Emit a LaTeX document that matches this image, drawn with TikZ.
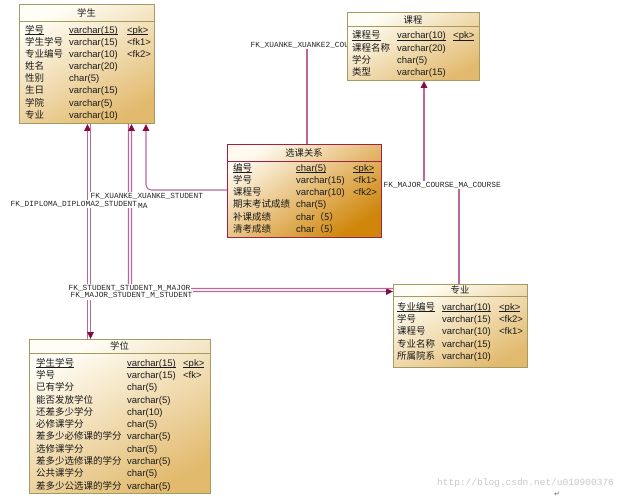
\documentclass[tikz,border=0pt]{standalone}
\usepackage{fontspec}
\setmainfont{Liberation Sans}
\newfontfamily\cjk{Noto Sans CJK SC}
\newfontfamily\lblmono{Liberation Mono}
\newfontfamily\symfont{DejaVu Sans}
\usetikzlibrary{arrows.meta}
\pgfdeclarelayer{bg}
\pgfdeclarelayer{mid}
\pgfsetlayers{bg,mid,main}
\definecolor{tbBorder}{HTML}{A39B62}
\definecolor{tbTop}{HTML}{FFFEF6}
\definecolor{tbBot}{HTML}{E2BA6E}
\definecolor{selBorder}{HTML}{9E2148}
\definecolor{selTop}{HTML}{FFF9EE}
\definecolor{selBot}{HTML}{CF860A}
\definecolor{linkCol}{HTML}{B9689A}
\definecolor{tipCol}{HTML}{860A43}
\definecolor{wmCol}{HTML}{C8C8C8}
\definecolor{txtCol}{HTML}{1A1A1A}
\tikzset{
  tbl/.style={draw=tbBorder, line width=1pt, top color=tbTop, bottom color=tbBot, shading angle=28,
    anchor=north west, inner sep=0pt, outer sep=0pt},
  seltbl/.style={tbl, draw=selBorder, top color=selTop, bottom color=selBot, shading angle=35},
  hdr/.style={draw=tbBorder, line width=0.8pt},
  selhdr/.style={draw=selBorder, line width=0.8pt},
  ttl/.style={inner sep=0pt, font=\cjk\fontsize{9.3}{10}\selectfont, text=txtCol},
  cell/.style={anchor=west, inner sep=0pt, text height=7.5pt, text depth=1.5pt,
    font=\fontsize{9.5}{10}\selectfont, text=txtCol},
  link/.style={draw=linkCol, line width=1.1pt},
  tip/.style={-{Triangle[length=7pt,width=6.5pt,color=tipCol,fill=tipCol]}},
  lbl/.style={anchor=west, inner xsep=0.5pt, inner ysep=1pt, fill=white,
    font=\lblmono\fontsize{7.8}{8}\selectfont, text=black!85},
  wm/.style={anchor=west, inner sep=0pt, font=\lblmono\fontsize{9.5}{10}\selectfont, text=wmCol}
}
\newcommand\ulin[1]{\setbox0\hbox{#1}\rlap{\rule[-1.3pt]{\wd0}{0.55pt}}\box0}
\newcommand\colA{0}
\newcommand\colB{0}
\newcommand\colC{0}
\newcommand\trow[4]{%
  \node[cell] (#1n) at (\colA,#2) {\cjk #3};
  \node[cell] (#1t) at (\colB,#2) {#4};}
\newcommand\trowk[5]{%
  \node[cell] (#1n) at (\colA,#2) {\cjk #3};
  \node[cell] (#1t) at (\colB,#2) {#4};
  \node[cell] (#1k) at (\colC,#2) {#5};}
\begin{document}
\begin{tikzpicture}[x=1pt,y=-1pt]
\begin{pgfonlayer}{bg}
\fill[white] (0,0) rectangle (625,503);
\end{pgfonlayer}
\useasboundingbox (0,0) rectangle (625,503);

% ---------- 学生 ----------
\node[tbl, minimum width=135pt, minimum height=119pt] (stu) at (19,5) {};
\draw[hdr] ([yshift=-16pt]stu.north west) -- ([yshift=-16pt]stu.north east);
\node[ttl] (stuT) at ([yshift=-8pt]stu.north) {学生};
\renewcommand\colA{25}\renewcommand\colB{69}\renewcommand\colC{127}
\trowk{s1}{30.5}{\ulin{学号}}{\ulin{varchar(15)}}{\ulin{<pk>}}
\trowk{s2}{42.6}{学生学号}{varchar(15)}{<fk1>}
\trowk{s3}{54.7}{专业编号}{varchar(10)}{<fk2>}
\trow{s4}{66.8}{姓名}{varchar(20)}
\trow{s5}{78.9}{性别}{char(5)}
\trow{s6}{91.0}{生日}{varchar(15)}
\trow{s7}{103.1}{学院}{varchar(5)}
\trow{s8}{115.2}{专业}{varchar(10)}

% ---------- 课程 ----------
\node[tbl, minimum width=132pt, minimum height=68pt] (course) at (347,13) {};
\draw[hdr] ([yshift=-13pt]course.north west) -- ([yshift=-13pt]course.north east);
\node[ttl] (courseT) at ([yshift=-7pt]course.north) {课程};
\renewcommand\colA{352}\renewcommand\colB{397}\renewcommand\colC{453}
\trowk{c1}{36}{\ulin{课程号}}{\ulin{varchar(10)}}{\ulin{<pk>}}
\trow{c2}{48.3}{课程名称}{varchar(20)}
\trow{c3}{60.6}{学分}{char(5)}
\trow{c4}{72.9}{类型}{varchar(15)}

% ---------- 选课关系 ----------
\node[seltbl, minimum width=154pt, minimum height=92pt] (xk) at (227,145) {};
\draw[selhdr] ([yshift=-16pt]xk.north west) -- ([yshift=-16pt]xk.north east);
\node[ttl] (xkT) at ([yshift=-8pt]xk.north) {选课关系};
\renewcommand\colA{233}\renewcommand\colB{296}\renewcommand\colC{353}
\trowk{x1}{168.3}{\ulin{编号}}{\ulin{char(5)}}{\ulin{<pk>}}
\trowk{x2}{180.5}{学号}{varchar(15)}{<fk1>}
\trowk{x3}{192.7}{课程号}{varchar(10)}{<fk2>}
\trow{x4}{204.9}{期末考试成绩}{char(5)}
\trow{x5}{217.1}{补课成绩}{char{\cjk （5）}}
\trow{x6}{229.3}{清考成绩}{char{\cjk （5）}}

% ---------- 专业 ----------
\node[tbl, minimum width=134pt, minimum height=83pt] (major) at (393,284) {};
\draw[hdr] ([yshift=-12pt]major.north west) -- ([yshift=-12pt]major.north east);
\node[ttl] (majorT) at ([yshift=-6pt]major.north) {专业};
\renewcommand\colA{397}\renewcommand\colB{442}\renewcommand\colC{499}
\trowk{m1}{307.5}{\ulin{专业编号}}{\ulin{varchar(10)}}{\ulin{<pk>}}
\trowk{m2}{319.7}{学号}{varchar(15)}{<fk2>}
\trowk{m3}{331.9}{课程号}{varchar(10)}{<fk1>}
\trow{m4}{344.1}{专业名称}{varchar(15)}
\trow{m5}{356.3}{所属院系}{varchar(10)}

% ---------- 学位 ----------
\node[tbl, minimum width=181pt, minimum height=154pt] (deg) at (29,339) {};
\draw[hdr] ([yshift=-14pt]deg.north west) -- ([yshift=-14pt]deg.north east);
\node[ttl] (degT) at ([yshift=-7pt]deg.north) {学位};
\renewcommand\colA{36}\renewcommand\colB{127}\renewcommand\colC{183}
\trowk{d1}{363.3}{\ulin{学生学号}}{\ulin{varchar(15)}}{\ulin{<pk>}}
\trowk{d2}{375.6}{学号}{varchar(15)}{<fk>}
\trow{d3}{387.8}{已有学分}{char(5)}
\trow{d4}{400.1}{能否发放学位}{varchar(5)}
\trow{d5}{412.4}{还差多少学分}{char(10)}
\trow{d6}{424.7}{必修课学分}{char(5)}
\trow{d7}{436.9}{差多少必修课的学分}{varchar(5)}
\trow{d8}{449.2}{选修课学分}{char(5)}
\trow{d9}{461.5}{差多少选修课的学分}{varchar(5)}
\trow{d10}{473.7}{公共课学分}{char(5)}
\trow{d11}{486.0}{差多少公选课的学分}{varchar(5)}

% ---------- connectors ----------
\begin{pgfonlayer}{bg}
\coordinate (mcY) at (0,185);
% FK_DIPLOMA_DIPLOMA2_STUDENT
\draw[link, tip] ([xshift=58.5pt]deg.north west) -- ([xshift=68.5pt]stu.south west);
% second link 学生 -> 学位
\draw[link, tip] ([xshift=71.5pt]stu.south west) -- ([xshift=61.5pt]deg.north west);
% FK_STUDENT_STUDENT_M_MAJOR
\draw[link, tip, rounded corners=5pt] ([xshift=109.5pt]stu.south west) |- ([yshift=-7.5pt]major.north west);
% FK_MAJOR_STUDENT_M_STUDENT
\draw[link, tip, rounded corners=5pt] ([yshift=-4.5pt]major.north west) -| ([xshift=112.5pt]stu.south west);
% FK_XUANKE_XUANKE_STUDENT
\draw[link, tip, rounded corners=5pt] ([yshift=-45pt]xk.north west) -| ([xshift=127pt]stu.south west);
% FK_MAJOR_COURSE_MA_COURSE
\draw[link, tip] ([xshift=66pt]major.north west) -- ([xshift=66pt]major.north west |- mcY) -| ([xshift=77pt]course.south west);
% FK_XUANKE_XUANKE2_COURSE
\draw[link, tip] ([xshift=80pt]xk.north west) |- ([yshift=-32pt]course.north west);
\end{pgfonlayer}

% ---------- labels ----------
\begin{pgfonlayer}{mid}
\node[lbl] (lXC) at (250,45) {FK\_XUANKE\_XUANKE2\_COU};
\node[lbl] (lMC) at (383,185) {FK\_MAJOR\_COURSE\_MA\_COURSE};
\node[lbl] (lXS) at (90,196) {FK\_XUANKE\_XUANKE\_STUDENT};
\node[lbl] (lDS) at (10,204) {FK\_DIPLOMA\_DIPLOMA2\_STUDENT};
\node[lbl] (lMA) at (137.5,205.5) {MA};
\node[lbl] (lSM) at (68,288.5) {FK\_STUDENT\_STUDENT\_M\_MAJOR};
\node[lbl] (lMS) at (70,295.5) {FK\_MAJOR\_STUDENT\_M\_STUDENT};
\end{pgfonlayer}

% ---------- watermark ----------
\node[wm] (wmk) at (437,483) {http://blog.csdn.net/u010900376};
\node[inner sep=0pt, font=\symfont\fontsize{7}{8}\selectfont, text=black!60] (ret) at (557,494) {↵};
\end{tikzpicture}
\end{document}
